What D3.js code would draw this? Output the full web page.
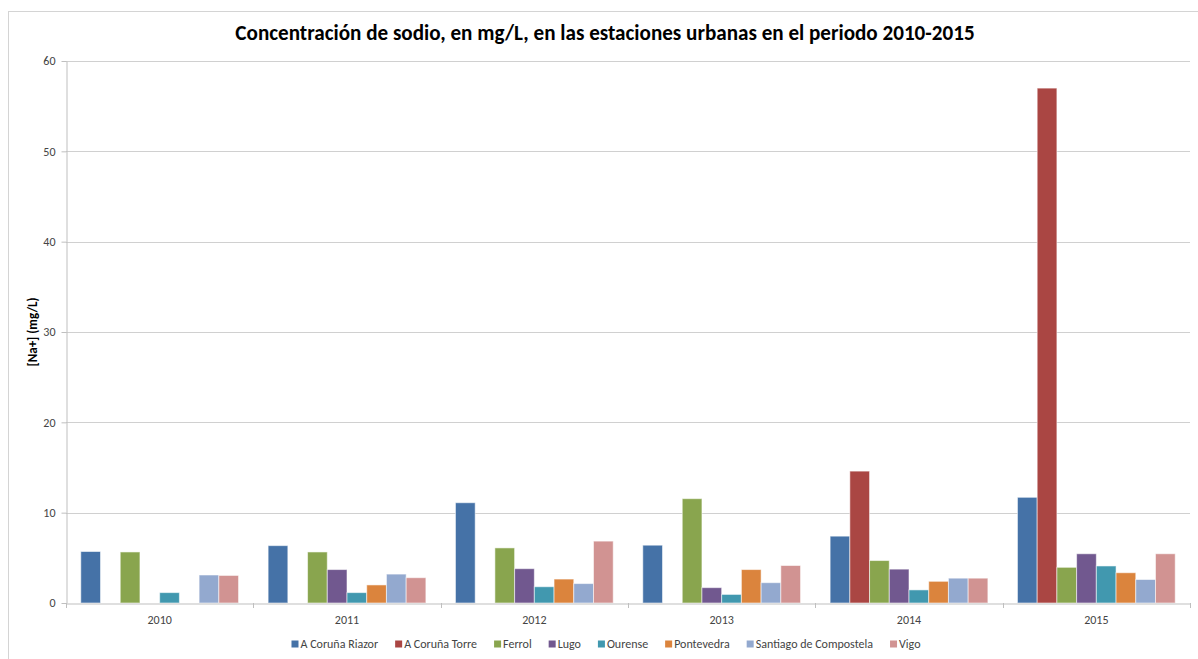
<!DOCTYPE html>
<html>
<head>
<meta charset="utf-8">
<script src="https://cdn.jsdelivr.net/npm/d3@7/dist/d3.min.js"></script>
<style>
  html, body { margin: 0; padding: 0; background: #fff; }
  svg { display: block; }
  text { font-family: Carlito, Calibri, Lato, "Open Sans", sans-serif; }
</style>
</head>
<body>
<svg id="chart" width="1198" height="659"></svg>
<script>
// Sodium concentration (mg/L) per urban station and year
const years = ["2010", "2011", "2012", "2013", "2014", "2015"];
const stations = ["A Coruña Riazor", "A Coruña Torre", "Ferrol", "Lugo", "Ourense", "Pontevedra", "Santiago de Compostela", "Vigo"];
const stationColors = ["#4572A7", "#AA4643", "#89A54E", "#71588F", "#4198AF", "#DB843D", "#93A9CF", "#D19392"];

const riazor     = [5.7, 6.35, 11.1, 6.4, 7.4, 11.7];
const torre      = [null, null, null, null, 14.6, 57.0];
const ferrol     = [5.65, 5.65, 6.1, 11.55, 4.7, 3.95];
const lugo       = [null, 3.7, 3.8, 1.7, 3.75, 5.45];
const ourense    = [1.15, 1.15, 1.8, 0.95, 1.45, 4.1];
const pontevedra = [null, 2.0, 2.65, 3.7, 2.4, 3.35];
const santiago   = [3.1, 3.2, 2.15, 2.25, 2.75, 2.6];
const vigo       = [3.05, 2.8, 6.85, 4.15, 2.75, 5.45];

const yTicks = [0, 10, 20, 30, 40, 50, 60];

const titleText = "Concentración de sodio, en mg/L, en las estaciones urbanas en el periodo 2010-2015";
const yAxisTitle = "[Na+] (mg/L)";

const seriesValues = [riazor, torre, ferrol, lugo, ourense, pontevedra, santiago, vigo];

const svg = d3.select("#chart");
const labelFont = "Carlito, Calibri, Lato, 'Open Sans', sans-serif";

// Chart frame
svg.append("rect")
  .attr("x", 8.5).attr("y", 11.5)
  .attr("width", 1240).attr("height", 700)
  .attr("fill", "#fff")
  .attr("stroke", "#d4d4d4")
  .attr("stroke-width", 1);

const plot = { left: 66, right: 1190, top: 61, bottom: 603 };

const x0 = d3.scaleBand().domain(years).range([plot.left, plot.right]).paddingInner(0).paddingOuter(0);
const x1 = d3.scaleBand().domain(stations).range([0, x0.bandwidth()]).paddingInner(0).paddingOuter(0.75);
const y = d3.scaleLinear().domain([0, 60]).range([plot.bottom, plot.top]);
const color = d3.scaleOrdinal().domain(stations).range(stationColors);

// Horizontal gridlines
svg.append("g")
  .selectAll("line")
  .data(yTicks.filter(d => d > 0))
  .join("line")
  .attr("x1", plot.left).attr("x2", plot.right)
  .attr("y1", d => Math.round(y(d)) + 0.5).attr("y2", d => Math.round(y(d)) + 0.5)
  .attr("stroke", "#d0d0d0").attr("stroke-width", 1);

// Y axis
const yAxis = svg.append("g")
  .attr("transform", `translate(${plot.left + 0.5},0)`)
  .call(d3.axisLeft(y).tickValues(yTicks).tickSize(5).tickSizeOuter(0).tickPadding(6));
yAxis.select(".domain").attr("stroke", "#bfbfbf");
yAxis.selectAll(".tick line").attr("stroke", "#bfbfbf");
yAxis.selectAll(".tick text")
  .attr("fill", "#444").attr("font-size", 12)
  .style("font-family", labelFont);

// Bars
const rows = years.map((yr, i) => ({
  year: yr,
  values: stations.map((s, j) => ({ station: s, value: seriesValues[j][i] }))
}));

svg.append("g")
  .selectAll("g")
  .data(rows)
  .join("g")
  .attr("transform", d => `translate(${x0(d.year)},0)`)
  .selectAll("rect")
  .data(d => d.values.filter(v => v.value != null))
  .join("rect")
  .attr("x", d => x1(d.station))
  .attr("width", x1.bandwidth())
  .attr("y", d => y(d.value))
  .attr("height", d => y(0) - y(d.value))
  .attr("fill", d => color(d.station))
  .attr("stroke", "rgba(255,255,255,0.55)")
  .attr("stroke-width", 1);

// X axis: category labels centred, tick marks between groups
const xAxis = svg.append("g")
  .attr("transform", `translate(0,${plot.bottom + 0.5})`)
  .call(d3.axisBottom(x0).tickSize(0).tickPadding(12).tickSizeOuter(0));
xAxis.select(".domain").attr("stroke", "#bfbfbf");
xAxis.selectAll(".tick text")
  .attr("fill", "#444").attr("font-size", 12)
  .style("font-family", labelFont);

const boundaries = years.map(yr => x0(yr)).concat([x0(years[years.length - 1]) + x0.bandwidth()]);
svg.append("g")
  .selectAll("line")
  .data(boundaries)
  .join("line")
  .attr("x1", d => Math.round(d) + 0.5).attr("x2", d => Math.round(d) + 0.5)
  .attr("y1", plot.bottom).attr("y2", plot.bottom + 5)
  .attr("stroke", "#bfbfbf");

// Title, sized to its box
const title = svg.append("text")
  .attr("x", 605).attr("y", 40)
  .attr("text-anchor", "middle")
  .attr("font-weight", "bold")
  .attr("font-size", 20)
  .attr("fill", "#000")
  .text(titleText);
const tw = title.node().getComputedTextLength();
title.attr("font-size", 20 * 740 / tw);

// Y axis title
svg.append("text")
  .attr("transform", `translate(37,${(plot.top + plot.bottom) / 2}) rotate(-90)`)
  .attr("text-anchor", "middle")
  .attr("font-weight", "bold")
  .attr("font-size", 13)
  .attr("fill", "#000")
  .text(yAxisTitle);

// Legend
const legend = svg.append("g");
const items = legend.selectAll("g").data(stations).join("g");
items.append("rect")
  .attr("width", 7).attr("height", 7)
  .attr("y", -7.5)
  .attr("fill", d => color(d));
items.append("text")
  .attr("x", 9).attr("y", 0)
  .attr("font-size", 12)
  .attr("fill", "#444")
  .text(d => d);

let cursor = 0;
const gap = 17;
items.each(function () {
  const g = d3.select(this);
  g.attr("transform", `translate(${cursor},648)`);
  const w = g.select("text").node().getComputedTextLength() + 9;
  cursor += w + gap;
});
const total = cursor - gap;
legend.attr("transform", `translate(${606 - total / 2},0)`);
</script>
</body>
</html>
